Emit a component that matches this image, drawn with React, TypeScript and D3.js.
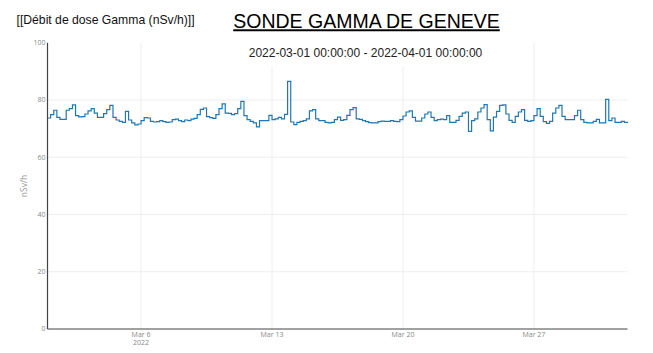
import React from "react";
import * as d3 from "d3";

const START = new Date(2022, 2, 1, 0, 0, 0);
const END = new Date(2022, 3, 1, 0, 0, 0);
const STEP_HOURS = 4;

const doseValues: number[] = [
  73.7, 74.9, 76.4, 73.9, 73.2, 73.2,
  76.4, 77.0, 78.3, 74.5, 74.1, 74.2,
  75.1, 76.2, 77.0, 75.4, 73.9, 73.9,
  75.2, 76.6, 78.1, 73.9, 73.0, 72.5,
  72.2, 76.0, 73.0, 72.0, 71.3, 71.6,
  72.8, 73.8, 73.7, 72.5, 72.3, 72.4,
  72.8, 72.4, 72.2, 72.3, 73.1, 73.3,
  72.8, 72.4, 73.0, 72.8, 73.3,
  73.6, 74.9, 76.7, 77.2, 74.2, 73.8, 73.6, 74.9, 77.0, 78.6, 75.4, 75.3,
  74.9, 75.2, 77.0, 79.5, 74.5, 73.1, 72.5, 72.0, 70.6, 72.8, 72.8, 72.8,
  74.6, 73.1, 73.4, 73.9, 73.4, 75.0, 86.5, 72.3, 71.4, 72.2, 72.5, 72.8,
  73.4, 76.2, 76.6, 73.4, 72.8, 72.8, 72.2, 72.0, 72.2, 73.1, 74.0,
  72.9, 73.1, 74.6, 76.6, 77.3, 73.4, 73.2, 72.8, 72.4, 72.1, 72.0, 72.0,
  72.4, 72.6, 72.5, 72.5, 72.8, 72.5, 72.4, 73.1, 74.4, 75.8, 76.2, 73.9,
  72.6, 72.6, 73.7, 75.1, 75.8, 73.9, 72.8, 73.1, 73.3, 73.1, 74.5, 72.2,
  72.2, 72.9, 74.3, 75.4, 75.8, 69.0, 72.8, 73.4, 75.8, 77.2, 78.4,
  73.1, 69.2, 74.0, 76.0, 78.1, 78.3, 75.1, 72.9, 72.2, 74.3, 75.8, 76.6,
  72.9, 72.5, 72.8, 74.5, 77.0, 74.3, 72.4, 71.8, 72.5, 75.4, 77.2, 78.1,
  74.3, 73.1, 73.1, 73.1, 74.5, 76.4, 73.1, 72.2, 72.0, 72.0, 72.5, 73.2,
  72.0, 72.0, 80.2, 72.8, 73.7, 72.2, 72.2, 72.5, 72.2, 72.4,
];

const Y_TICKS = [0, 20, 40, 60, 80, 100];
const X_TICK_DATES = [
  new Date(2022, 2, 6),
  new Date(2022, 2, 13),
  new Date(2022, 2, 20),
  new Date(2022, 2, 27),
];
const X_TICK_LABELS = ["Mar 6", "Mar 13", "Mar 20", "Mar 27"];
const YEAR_LABEL = "2022";

const TITLE = "SONDE GAMMA DE GENEVE";
const SUBTITLE = "2022-03-01 00:00:00 - 2022-04-01 00:00:00";
const CORNER = "[[Débit de dose Gamma (nSv/h)]]";
const Y_TITLE = "nSv/h";

const W = 653;
const H = 353;
const LEFT = 47.5;
const RIGHT = 627.5;
const TOP = 42.7;
const BOTTOM = 329;

export default function App() {
  const x = d3.scaleTime().domain([START, END]).range([LEFT, RIGHT]);
  const y = d3.scaleLinear().domain([0, 100]).range([BOTTOM, TOP]);
  const data = doseValues.map((v, i) => ({
    t: d3.timeHour.offset(START, i * STEP_HOURS),
    v,
  }));
  const line = d3
    .line<{ t: Date; v: number }>()
    .x((d) => x(d.t))
    .y((d) => y(d.v))
    .curve(d3.curveStepAfter);

  const tickFont = "'Open Sans', sans-serif";
  const textFont = "'Liberation Sans', Arial, sans-serif";

  return (
    <svg
      width={W}
      height={H}
      style={{ position: "absolute", left: 0, top: 0, background: "#fff" }}
    >
      <rect x={0} y={0} width={W} height={H} fill="#fff" />
      {Y_TICKS.filter((t) => t > 0 && t < 100).map((t) => (
        <line
          key={"gy" + t}
          x1={LEFT}
          x2={RIGHT}
          y1={y(t)}
          y2={y(t)}
          stroke="#eeeeee"
          strokeWidth={1}
        />
      ))}
      {X_TICK_DATES.map((d, i) => (
        <line
          key={"gx" + i}
          x1={x(d)}
          x2={x(d)}
          y1={TOP}
          y2={BOTTOM}
          stroke="#eeeeee"
          strokeWidth={1}
        />
      ))}
      <rect x={246} y={TOP} width={240} height={24} fill="#fff" />
      <text
        x={365.5}
        y={57}
        textAnchor="middle"
        fontFamily={textFont}
        fontSize={12}
        fill="#222"
      >
        {SUBTITLE}
      </text>
      <path
        d={line(data) || ""}
        fill="none"
        stroke="#1f77b4"
        strokeWidth={1.2}
      />
      <line x1={LEFT} x2={LEFT} y1={TOP} y2={BOTTOM} stroke="#444" strokeWidth={1.2} />
      <line x1={LEFT} x2={RIGHT} y1={BOTTOM} y2={BOTTOM} stroke="#444" strokeWidth={1.2} />
      {Y_TICKS.map((t) => (
        <text
          key={"ty" + t}
          x={45.5}
          y={y(t)}
          dy="0.35em"
          textAnchor="end"
          fontFamily={tickFont}
          fontSize={7}
          fill="#888"
        >
          {t}
        </text>
      ))}
      {X_TICK_DATES.map((d, i) => (
        <text
          key={"tx" + i}
          x={x(d)}
          y={336.7}
          textAnchor="middle"
          fontFamily={tickFont}
          fontSize={7}
          fill="#888"
        >
          {X_TICK_LABELS[i]}
        </text>
      ))}
      <text
        x={x(X_TICK_DATES[0])}
        y={345}
        textAnchor="middle"
        fontFamily={tickFont}
        fontSize={7}
        fill="#888"
      >
        {YEAR_LABEL}
      </text>
      <text
        transform={`translate(27,186) rotate(-90)`}
        textAnchor="middle"
        fontFamily={tickFont}
        fontSize={8.5}
        fill="#999"
      >
        {Y_TITLE}
      </text>
      <text x={16.5} y={24} fontFamily={textFont} fontSize={12.2} fill="#111">
        {CORNER}
      </text>
      <text
        x={366.5}
        y={28.3}
        textAnchor="middle"
        fontFamily={textFont}
        fontSize={19.5}
        fill="#000"
        textDecoration="underline"
      >
        {TITLE}
      </text>
    </svg>
  );
}
